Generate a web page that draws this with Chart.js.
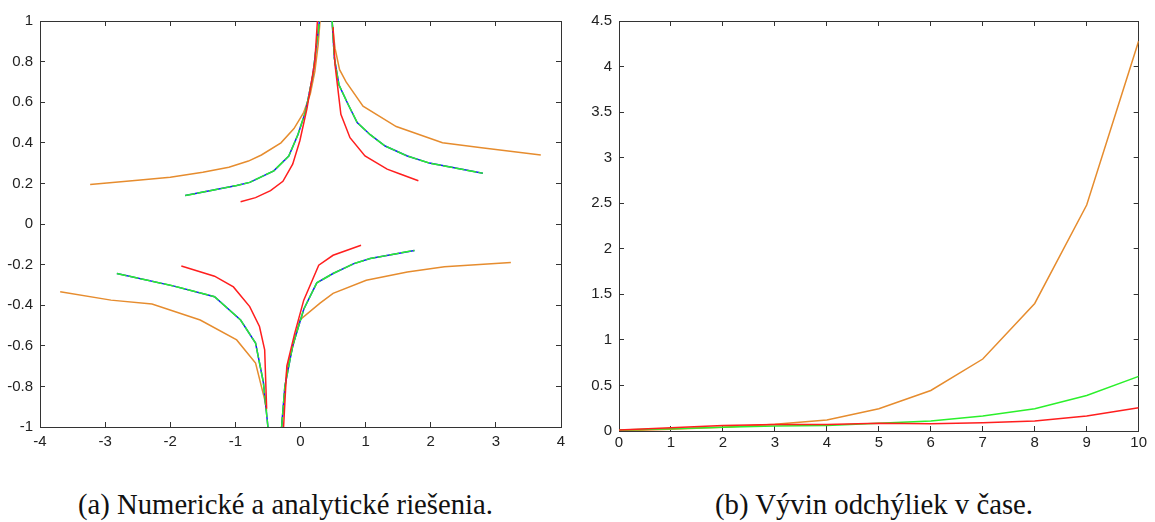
<!DOCTYPE html>
<html>
<head>
<meta charset="utf-8">
<script src="https://cdn.jsdelivr.net/npm/chart.js@4/dist/chart.umd.min.js"></script>
<style>
  body { margin: 0; background: #fff; width: 1155px; height: 522px; overflow: hidden; position: relative; }
  .wrap { position: absolute; top: 0; }
  .cap { position: absolute; top: 488px; font-family: "Liberation Serif", "DejaVu Serif", serif; color: #111; white-space: nowrap; }
</style>
</head>
<body>
<div class="wrap" style="left:0"><canvas id="left" width="580" height="460"></canvas></div>
<div class="wrap" style="left:580px"><canvas id="right" width="575" height="460"></canvas></div>
<div class="cap" id="capA">(a) Numerické a analytické riešenia.</div>
<div class="cap" id="capB">(b) Vývin odchýliek v čase.</div>
<script>
// LEFT CHART DATA (x, y pairs)

var orangeUpL = [[-3.23,0.195],[-2.5,0.215],[-2.0,0.23],[-1.5,0.255],[-1.1,0.28],[-0.8,0.31],[-0.6,0.34],[-0.3,0.40],[-0.1,0.47],[0.05,0.55],[0.15,0.64],[0.22,0.75],[0.27,0.88],[0.30,1.0]];
var orangeUpR = [[0.49,0.98],[0.53,0.866],[0.6,0.76],[0.70,0.70],[0.96,0.58],[1.47,0.48],[2.18,0.40],[2.78,0.376],[3.69,0.34]];
var orangeLoL = [[-3.69,-0.334],[-2.91,-0.375],[-2.28,-0.394],[-1.54,-0.473],[-0.98,-0.571],[-0.69,-0.685],[-0.55,-0.865],[-0.52,-0.92]];
var orangeLoR = [[-0.29,-1.0],[-0.21,-0.72],[-0.1,-0.58],[-0.01,-0.473],[0.30,-0.39],[0.50,-0.342],[1.01,-0.277],[1.64,-0.236],[2.21,-0.211],[3.23,-0.19]];

var greenUpL = [[-1.77,0.14],[-0.98,0.19],[-0.78,0.205],[-0.41,0.262],[-0.18,0.335],[-0.04,0.44],[0.08,0.556],[0.19,0.735],[0.29,1.0]];
var greenUpR = [[0.486,1.0],[0.52,0.817],[0.59,0.686],[0.73,0.59],[0.87,0.50],[1.07,0.44],[1.30,0.384],[1.64,0.335],[1.98,0.30],[2.80,0.25]];
var greenLoL = [[-2.82,-0.244],[-1.94,-0.306],[-1.32,-0.358],[-0.92,-0.473],[-0.69,-0.587],[-0.57,-0.78],[-0.50,-1.0]];
var greenLoR = [[-0.29,-1.0],[-0.24,-0.80],[-0.12,-0.60],[0.05,-0.42],[0.25,-0.29],[0.50,-0.244],[0.82,-0.195],[1.07,-0.17],[1.75,-0.13]];

var redUpL = [[-0.92,0.11],[-0.69,0.13],[-0.46,0.164],[-0.27,0.21],[-0.12,0.295],[-0.01,0.41],[0.10,0.57],[0.22,0.80],[0.26,1.0]];
var redUpR = [[0.50,0.97],[0.53,0.785],[0.62,0.54],[0.76,0.425],[0.99,0.335],[1.33,0.27],[1.53,0.246],[1.81,0.213]];
var redLoL = [[-1.83,-0.207],[-1.32,-0.257],[-1.03,-0.31],[-0.78,-0.407],[-0.63,-0.505],[-0.55,-0.62],[-0.52,-0.91]];
var redLoR = [[-0.26,-1.0],[-0.21,-0.70],[-0.09,-0.54],[0.05,-0.375],[0.28,-0.203],[0.50,-0.154],[0.93,-0.105]];

var leftXTicks = [-4, 4, 1];
var leftYTicks = [-1, 1, 0.2];

// RIGHT CHART DATA

var timeSteps = [0, 1, 2, 3, 4, 5, 6, 7, 8, 9, 10];
var orangeDev = [0.0, 0.02, 0.04, 0.073, 0.12, 0.244, 0.445, 0.79, 1.40, 2.48, 4.28];
var greenDev  = [0.01, 0.025, 0.04, 0.055, 0.06, 0.084, 0.11, 0.164, 0.244, 0.39, 0.60];
var redDev    = [0.01, 0.035, 0.06, 0.07, 0.07, 0.085, 0.08, 0.09, 0.11, 0.164, 0.255];

var rightXTicks = [0, 10, 1];
var rightYTicks = [0, 4.5, 0.5];

var ORANGE = '#E68C2E', GREEN = '#2BF02B', BLUE = '#1515FF', RED = '#FF1E1E';
var FRAME = '#333';

function pts(arr) {
  return arr.map(function(p) { return { x: p[0], y: p[1] }; });
}

// chart.js paints dataset 0 last, so list the top line first
function line(data, color, dash) {
  var ds = {
    data: data,
    xAxisID: 'x',
    yAxisID: 'y',
    borderColor: color,
    borderWidth: 1.5,
    pointRadius: 0,
    showLine: true
  };
  if (dash) ds.borderDash = dash;
  return ds;
}

function fmt(v) {
  return String(Number(v.toFixed(2)));
}

// ticks point inwards: negative tick length, no grid lines across the plot
var inwardGrid = {
  display: true,
  drawOnChartArea: false,
  drawTicks: true,
  tickLength: -5,
  color: FRAME,
  lineWidth: 1
};
var frameBorder = { display: true, color: FRAME, width: 1 };

function makeOptions(xt, yt, yWidth, xHeight, pad, xPad) {
  var tickFont = { family: 'Liberation Sans, Arial, sans-serif', size: 15 };
  return {
    responsive: false,
    animation: false,
    layout: { padding: pad },
    plugins: { legend: { display: false }, tooltip: { enabled: false } },
    scales: {
      x: {
        type: 'linear', position: 'bottom', min: xt[0], max: xt[1],
        grid: inwardGrid, border: frameBorder,
        ticks: { stepSize: xt[2], font: tickFont, color: '#222', padding: xPad + 5, maxRotation: 0, callback: fmt },
        afterFit: function(s) { s.height = xHeight; }
      },
      y: {
        type: 'linear', position: 'left', min: yt[0], max: yt[1],
        grid: inwardGrid, border: frameBorder,
        ticks: { stepSize: yt[2], font: tickFont, color: '#222', padding: 12, callback: fmt },
        afterFit: function(s) { s.width = yWidth; }
      },
      // top and right sides of the box
      x2: {
        type: 'linear', axis: 'x', position: 'top', min: xt[0], max: xt[1],
        grid: inwardGrid, border: frameBorder,
        ticks: { stepSize: xt[2], display: false },
        afterFit: function(s) { s.height = 0; }
      },
      y2: {
        type: 'linear', axis: 'y', position: 'right', min: yt[0], max: yt[1],
        grid: inwardGrid, border: frameBorder,
        ticks: { stepSize: yt[2], display: false },
        afterFit: function(s) { s.width = 0; }
      }
    }
  };
}

new Chart(document.getElementById('left'), {
  type: 'scatter',
  data: {
    datasets: [
      line(pts(redUpL), RED), line(pts(redUpR), RED),
      line(pts(redLoL), RED), line(pts(redLoR), RED),
      line(pts(greenUpL), GREEN, [10, 2]), line(pts(greenUpR), GREEN, [10, 2]),
      line(pts(greenLoL), GREEN, [10, 2]), line(pts(greenLoR), GREEN, [10, 2]),
      line(pts(greenUpL), BLUE), line(pts(greenUpR), BLUE),
      line(pts(greenLoL), BLUE), line(pts(greenLoR), BLUE),
      line(pts(orangeUpL), ORANGE), line(pts(orangeUpR), ORANGE),
      line(pts(orangeLoL), ORANGE), line(pts(orangeLoR), ORANGE)
    ]
  },
  options: makeOptions(leftXTicks, leftYTicks, 40, 33, { left: 0, top: 19, right: 19, bottom: 0 }, 6)
});

function series(ys) {
  return timeSteps.map(function(t, i) { return { x: t, y: ys[i] }; });
}

new Chart(document.getElementById('right'), {
  type: 'scatter',
  data: {
    datasets: [
      line(series(redDev), RED),
      line(series(greenDev), GREEN),
      line(series(orangeDev), ORANGE)
    ]
  },
  options: makeOptions(rightXTicks, rightYTicks, 39, 29, { left: 0, top: 20, right: 13, bottom: 0 }, 3)
});

// CAPTIONS: fit widths to the reference
function fitCaption(id, left, right) {
  var el = document.getElementById(id);
  el.style.fontSize = '20px';
  var w = el.getBoundingClientRect().width;
  var size = 20 * (right - left) / w;
  el.style.fontSize = size.toFixed(2) + 'px';
  el.style.left = left + 'px';
}
fitCaption('capA', 78, 493);
fitCaption('capB', 715, 1033);
</script>
</body>
</html>
